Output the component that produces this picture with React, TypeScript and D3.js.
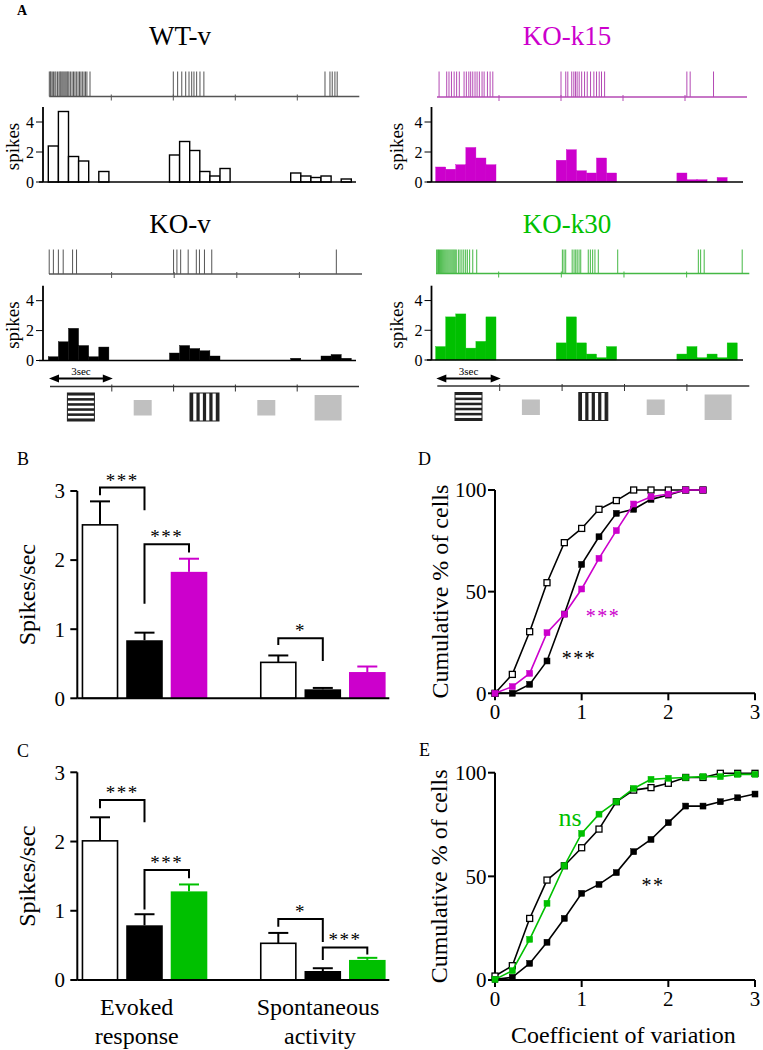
import React from 'react';
import * as d3 from 'd3';

const FONT = '"Liberation Serif", "Times New Roman", Times, serif';
const MAGENTA = '#cc00cc';
const GREEN = '#00c000';

// ---------- Panel A data ----------
// spike times (seconds, 0-15 s sweep)
const spikesWT = [0.0, 0.05, 0.08, 0.14, 0.2, 0.27, 0.32, 0.4, 0.47, 0.52, 0.56, 0.61, 0.66, 0.71, 0.76, 0.81, 0.86, 0.9, 0.95, 1.02, 1.1, 1.17, 1.24, 1.31, 1.39, 1.46, 1.53, 1.6, 1.68, 1.75, 1.82, 1.97,
  6.0, 6.21, 6.41, 6.6, 6.76, 6.89, 7.0, 7.13, 7.29, 7.48,
  13.34, 13.58, 13.69, 13.82, 13.93];
const spikesKOv = [0.01, 0.21, 0.45, 0.68, 1.13, 1.32,
  5.97, 6.13, 6.31, 6.67, 7.06, 7.21, 7.45, 7.8,
  13.77];
const spikesK15 = [0.1, 0.47, 0.58, 0.7, 0.83, 0.95, 1.08, 1.31, 1.42, 1.54, 1.63, 1.73, 1.84, 1.94, 2.05, 2.18, 2.28, 2.44, 2.57, 2.7,
  6.0, 6.23, 6.33, 6.52, 6.62, 6.7, 6.78, 6.88, 7.0, 7.14, 7.27, 7.43, 7.59, 7.72, 7.85, 7.96, 8.11,
  12.09, 12.25, 13.38];
const spikesK30 = [0.03, 0.08, 0.12, 0.17, 0.22, 0.27, 0.32, 0.37, 0.42, 0.47, 0.52, 0.57, 0.62, 0.67, 0.72, 0.77, 0.82, 0.87, 0.92, 0.97,
  1.07, 1.15, 1.24, 1.33, 1.42, 1.5, 1.61, 1.76, 1.95,
  6.05, 6.13, 6.21, 6.52, 6.61, 6.69, 6.76, 6.85, 6.93, 7.29, 7.39, 7.5, 7.61, 7.77, 8.7,
  12.56, 12.67, 12.84, 14.66];

// PSTH, 30 bins of 0.5 s
const histWT = [2.4, 4.7, 1.7, 1.4, 0, 0.7, 0, 0, 0, 0, 0, 0, 1.8, 2.7, 2.1, 0.7, 0.4, 0.9, 0, 0, 0, 0, 0, 0, 0.6, 0.4, 0.3, 0.4, 0, 0.2];
const histKOv = [0.25, 1.25, 2.15, 1.0, 0.25, 0.9, 0, 0, 0, 0, 0, 0, 0.5, 1.0, 0.8, 0.65, 0.3, 0, 0, 0, 0, 0, 0, 0, 0.15, 0, 0, 0.3, 0.4, 0.15];
const histK15 = [1.0, 0.85, 1.15, 2.3, 1.6, 1.15, 0, 0, 0, 0, 0, 0, 1.45, 2.15, 0.75, 0.6, 1.6, 0.6, 0, 0, 0, 0, 0, 0, 0.6, 0.15, 0.15, 0, 0.3, 0];
const histK30 = [0.9, 2.9, 3.1, 0.8, 1.25, 2.9, 0, 0, 0, 0, 0, 0, 1.15, 2.9, 1.15, 0.4, 0.15, 0.9, 0, 0, 0, 0, 0, 0, 0.4, 0.9, 0.15, 0.4, 0.15, 1.15];
const histTicks = [0, 2, 4];

const stimuli = ['hgrating', 'gray', 'vgrating', 'gray', 'blank'];

// ---------- Panels B / C ----------
const barGroups = ['evoked', 'spont'];
const barConds = ['wt', 'ko', 'kok'];
const meanB = [[2.51, 0.84, 1.83], [0.52, 0.13, 0.38]];
const errB = [[2.85, 0.95, 2.02], [0.62, 0.15, 0.46]];
const meanC = [[2.01, 0.79, 1.28], [0.53, 0.13, 0.29]];
const errC = [[2.35, 0.95, 1.38], [0.68, 0.17, 0.32]];
const barTicks = [0, 1, 2, 3];
const bracketsB = [
  { g: 0, a: 0, b: 1, y: 3.05, ya: 2.94, yb: 2.72, label: '***' },
  { g: 0, a: 1, b: 2, y: 2.23, ya: 1.37, yb: 2.11, label: '***' },
  { g: 1, a: 0, b: 1, y: 0.87, ya: 0.77, yb: 0.54, label: '*' },
];
const bracketsC = [
  { g: 0, a: 0, b: 1, y: 2.6, ya: 2.48, yb: 2.28, label: '***' },
  { g: 0, a: 1, b: 2, y: 1.59, ya: 1.02, yb: 1.47, label: '***' },
  { g: 1, a: 0, b: 1, y: 0.88, ya: 0.77, yb: 0.55, label: '*' },
  { g: 1, a: 1, b: 2, y: 0.47, ya: 0.29, yb: 0.37, label: '***' },
];

// ---------- Panels D / E ----------
const cvD = [0, 0.2, 0.4, 0.6, 0.8, 1.0, 1.2, 1.4, 1.6, 1.8, 2.0, 2.2, 2.4];
const cdfD_WT = [0, 9.3, 30.3, 54.4, 74.1, 81.1, 90.5, 94.8, 100, 100, 100, 100, 100];
const cdfD_KO = [0, 0, 4.4, 15.9, 39, 63.4, 77, 88.5, 90.5, 95.4, 97.5, 100, 100];
const cdfD_K15 = [0, 3.3, 9.8, 29.8, 38.9, 51.3, 66.4, 80, 93.1, 96.7, 98, 100, 100];
const cvE = [0, 0.2, 0.4, 0.6, 0.8, 1.0, 1.2, 1.4, 1.6, 1.8, 2.0, 2.2, 2.4, 2.6, 2.8, 3.0];
const cdfE_WT = [1.9, 6.9, 29.7, 48.2, 55.1, 63.8, 72.8, 86, 91.6, 92.8, 94.9, 97.7, 97.7, 99.7, 99.7, 99.7];
const cdfE_KO = [0.3, 1.3, 8, 18.2, 29.7, 41.8, 46.1, 51.8, 61.9, 67.8, 75.9, 83.9, 83.9, 86, 87.9, 89.7];
const cdfE_K30 = [0.3, 4.5, 19.6, 37, 55.1, 70.7, 80, 86, 92.4, 96.8, 97.3, 97.7, 98.1, 98.1, 99.2, 99.2];
const cdfYTicks = [0, 50, 100];
const cdfXTicks = [0, 1, 2, 3];

// ---------------- components ----------------
function Raster({ x0, x1, yTop, yBase, spikes, color }: any) {
  const x = d3.scaleLinear().domain([0, 15]).range([x0, x1]);
  return (
    <g>
      {spikes.map((t: number, i: number) => (
        <line key={i} x1={x(t)} x2={x(t)} y1={yTop} y2={yBase} stroke={color} strokeWidth={1} />
      ))}
      <line x1={x0} x2={x1} y1={yBase} y2={yBase} stroke={color} strokeWidth={1.5} />
      {[3, 6, 9, 12].map((t) => (
        <line key={t} x1={x(t)} x2={x(t)} y1={yBase - 2} y2={yBase + 4} stroke={color} strokeWidth={1} />
      ))}
    </g>
  );
}

function Histogram({ axisX, binStart, binW, ax0, ax1, yTop, yBase, values, fill, stroke, labelX }: any) {
  const x = d3.scaleLinear().domain([0, 30]).range([binStart, binStart + 30 * binW]);
  const y = d3.scaleLinear().domain([0, 5]).range([yBase, yTop]);
  return (
    <g>
      {values.map((v: number, i: number) =>
        v > 0 ? (
          <rect key={i} x={x(i)} y={y(v)} width={x(i + 1) - x(i)} height={y(0) - y(v)}
            fill={fill} stroke={stroke} strokeWidth={stroke === '#000' && fill === '#fff' ? 1.4 : 0.4} />
        ) : null
      )}
      <line x1={ax0} x2={ax1} y1={yBase} y2={yBase} stroke="#000" strokeWidth={1.5} />
      <line x1={axisX} x2={axisX} y1={yTop} y2={yBase} stroke="#000" strokeWidth={1.8} />
      {histTicks.map((t) => (
        <g key={t}>
          <line x1={axisX - 7} x2={axisX} y1={y(t)} y2={y(t)} stroke="#000" strokeWidth={1} />
          <text x={axisX - 9} y={y(t)} dy="0.35em" textAnchor="end" fontSize={16} fontFamily={FONT}>{t}</text>
        </g>
      ))}
      <text transform={`translate(${labelX},${(yTop + yBase) / 2 + 2}) rotate(-90)`} textAnchor="middle"
        dy="0.35em" fontSize={19} fontFamily={FONT}>spikes</text>
    </g>
  );
}

function StimRow({ x0, x1, y, arrowY }: any) {
  const x = d3.scaleLinear().domain([0, 15]).range([x0, x1]);
  const ah = 8;
  return (
    <g>
      <line x1={x0} x2={x1} y1={y} y2={y} stroke="#333" strokeWidth={1.5} />
      {[3, 6, 9, 12].map((t) => (
        <line key={t} x1={x(t)} x2={x(t)} y1={y - 2} y2={y + 5} stroke="#333" strokeWidth={1} />
      ))}
      {/* 3 sec arrow */}
      <line x1={x(0) + ah} x2={x(3) - ah} y1={arrowY} y2={arrowY} stroke="#000" strokeWidth={2} />
      <path d={`M${x(0) - 1},${arrowY} L${x(0) + ah + 1},${arrowY - 4} L${x(0) + ah + 1},${arrowY + 4} Z`} fill="#000" />
      <path d={`M${x(3) + 1},${arrowY} L${x(3) - ah - 1},${arrowY - 4} L${x(3) - ah - 1},${arrowY + 4} Z`} fill="#000" />
      <text x={(x(0) + x(3)) / 2} y={arrowY - 3.5} textAnchor="middle" fontSize={11} fontFamily={FONT}>3sec</text>
      {stimuli.map((s, i) => {
        const cx = (x(i * 3) + x(i * 3 + 3)) / 2;
        if (s === 'hgrating') {
          const w = 27, h = 28, top = y + 6.5, n = 11;
          return (
            <g key={i}>
              <rect x={cx - w / 2} y={top} width={w} height={h} fill="#fff" stroke="#222" strokeWidth={1} />
              {d3.range(n).filter((k) => k % 2 === 0).map((k) => (
                <rect key={k} x={cx - w / 2} y={top + (k * h) / n} width={w} height={h / n} fill="#222" />
              ))}
            </g>
          );
        }
        if (s === 'vgrating') {
          const w = 29, h = 28, top = y + 6.5, n = 9;
          return (
            <g key={i}>
              <rect x={cx - w / 2} y={top} width={w} height={h} fill="#fff" stroke="#222" strokeWidth={1} />
              {d3.range(n).filter((k) => k % 2 === 0).map((k) => (
                <rect key={k} x={cx - w / 2 + (k * w) / n} y={top} width={w / n} height={h} fill="#222" />
              ))}
            </g>
          );
        }
        if (s === 'gray') {
          return <rect key={i} x={cx - 9} y={y + 13.5} width={18} height={15.5} fill="#c0c0c0" />;
        }
        return <rect key={i} x={cx - 13.5} y={y + 8.5} width={27} height={25.5} fill="#c0c0c0" />;
      })}
    </g>
  );
}

function BarChart({ yTop, yBase, means, errs, color, brackets, showX }: any) {
  const axisX = 77.3;
  const y = d3.scaleLinear().domain([0, 3]).range([yBase, yTop]);
  const gx = d3.scaleBand().domain(barGroups).range([81.7, 385.6]).paddingInner(0.2956).paddingOuter(0);
  const bx = d3.scaleBand().domain(barConds).range([0, gx.bandwidth()]).paddingInner(0.178).paddingOuter(0);
  const fills = ['#fff', '#000', color];
  const strokes = ['#000', '#000', color];
  const center = (g: number, c: number) => (gx(barGroups[g]) as number) + (bx(barConds[c]) as number) + bx.bandwidth() / 2;
  return (
    <g fontFamily={FONT}>
      {barGroups.map((g, gi) =>
        barConds.map((c, ci) => {
          const x0 = (gx(g) as number) + (bx(c) as number);
          const cx = x0 + bx.bandwidth() / 2;
          const m = means[gi][ci];
          const e = errs[gi][ci];
          return (
            <g key={g + c}>
              <line x1={cx} x2={cx} y1={y(m)} y2={y(e)} stroke={strokes[ci]} strokeWidth={2} />
              <line x1={cx - 10} x2={cx + 10} y1={y(e)} y2={y(e)} stroke={strokes[ci]} strokeWidth={2} />
              <rect x={x0 + (ci === 0 ? 0.75 : 0)} y={y(m)} width={bx.bandwidth() - (ci === 0 ? 1.5 : 0)} height={y(0) - y(m)}
                fill={fills[ci]} stroke={strokes[ci]} strokeWidth={ci === 0 ? 1.6 : 0} />
            </g>
          );
        })
      )}
      {brackets.map((b: any, i: number) => {
        const xa = center(b.g, b.a);
        const xb = center(b.g, b.b);
        return (
          <g key={i}>
            <path d={`M${xa},${y(b.ya)} L${xa},${y(b.y)} L${xb},${y(b.y)} L${xb},${y(b.yb)}`} fill="none" stroke="#000" strokeWidth={2} />
            <text x={(xa + xb) / 2} y={y(b.y) - 1} textAnchor="middle" fontSize={19} letterSpacing={1.5}>{b.label}</text>
          </g>
        );
      })}
      <line x1={axisX} x2={389.3} y1={yBase} y2={yBase} stroke="#000" strokeWidth={2} />
      <line x1={axisX} x2={axisX} y1={yTop} y2={yBase} stroke="#000" strokeWidth={2} />
      {barTicks.map((t) => (
        <g key={t}>
          <line x1={axisX - 7} x2={axisX} y1={y(t)} y2={y(t)} stroke="#000" strokeWidth={2} />
          <text x={65} y={y(t)} dy="0.35em" textAnchor="end" fontSize={21}>{t}</text>
        </g>
      ))}
      <text transform={`translate(27,${(yTop + yBase) / 2}) rotate(-90)`} textAnchor="middle" dy="0.35em" fontSize={24}>Spikes/sec</text>
      {showX && (
        <g fontSize={24} textAnchor="middle">
          <text x={136.7} y={1015}>Evoked</text>
          <text x={136.7} y={1044}>response</text>
          <text x={318} y={1015}>Spontaneous</text>
          <text x={320} y={1044}>activity</text>
        </g>
      )}
    </g>
  );
}

function Cdf({ yTop, yBase, series, labelY }: any) {
  const x = d3.scaleLinear().domain([0, 3]).range([495, 755]);
  const y = d3.scaleLinear().domain([0, 100]).range([yBase, yTop]);
  const line = d3.line<[number, number]>().x((d) => x(d[0])).y((d) => y(d[1]));
  const s = 6;
  return (
    <g fontFamily={FONT}>
      <line x1={495} x2={755} y1={yBase} y2={yBase} stroke="#000" strokeWidth={2} />
      <line x1={495} x2={495} y1={yTop} y2={yBase} stroke="#000" strokeWidth={2} />
      {cdfXTicks.map((t) => (
        <g key={t}>
          <line x1={x(t)} x2={x(t)} y1={yBase} y2={yBase + 7} stroke="#000" strokeWidth={2} />
          <text x={x(t)} y={yBase + 26} textAnchor="middle" fontSize={21}>{t}</text>
        </g>
      ))}
      {cdfYTicks.map((t) => (
        <g key={t}>
          <line x1={488} x2={495} y1={y(t)} y2={y(t)} stroke="#000" strokeWidth={2} />
          <text x={486.5} y={y(t)} dy="0.35em" textAnchor="end" fontSize={21}>{t}</text>
        </g>
      ))}
      <text transform={`translate(${labelY},${(yTop + yBase) / 2}) rotate(-90)`} textAnchor="middle" dy="0.35em" fontSize={24}>Cumulative % of cells</text>
      {series.map((se: any, i: number) => {
        const pts = se.xs.map((v: number, k: number) => [v, se.ys[k]] as [number, number]);
        return (
          <g key={i}>
            <path d={line(pts) as string} fill="none" stroke={se.color} strokeWidth={1.6} />
            {pts.map((p: [number, number], k: number) => (
              <rect key={k} x={x(p[0]) - s / 2} y={y(p[1]) - s / 2} width={s} height={s}
                fill={se.open ? '#fff' : se.color} stroke={se.open ? '#000' : se.color} strokeWidth={se.open ? 1.3 : 0.5} />
            ))}
          </g>
        );
      })}
    </g>
  );
}

export default function App() {
  return (
    <svg width={763} height={1050} style={{ position: 'absolute', left: 0, top: 0, background: '#fff' }}
      fontFamily={FONT}>
      <rect width={763} height={1050} fill="#fff" />
      {/* Panel A */}
      <text x={17} y={15} fontSize={14} fontWeight="bold">A</text>
      <text x={180} y={45} textAnchor="middle" fontSize={27}>WT-v</text>
      <text x={567} y={45} textAnchor="middle" fontSize={27} fill={MAGENTA}>KO-k15</text>
      <text x={180} y={233} textAnchor="middle" fontSize={27}>KO-v</text>
      <text x={567} y={233} textAnchor="middle" fontSize={27} fill={GREEN}>KO-k30</text>

      <Raster x0={49.3} x1={359.3} yTop={71.5} yBase={96.5} spikes={spikesWT} color="#555" />
      <Raster x0={437} x1={747} yTop={71.5} yBase={97} spikes={spikesK15} color="#b44ab4" />
      <Raster x0={49} x1={362} yTop={249.5} yBase={274} spikes={spikesKOv} color="#555" />
      <Raster x0={436} x1={749.3} yTop={249.5} yBase={273.5} spikes={spikesK30} color="#44b844" />

      <Histogram axisX={43} binStart={48.3} binW={10.1} ax0={39} ax1={356} yTop={107} yBase={182}
        values={histWT} fill="#fff" stroke="#000" labelX={12.7} />
      <Histogram axisX={431.5} binStart={435.7} binW={10.05} ax0={427} ax1={743} yTop={107} yBase={182}
        values={histK15} fill={MAGENTA} stroke={MAGENTA} labelX={396.7} />
      <Histogram axisX={43} binStart={48.3} binW={10.1} ax0={39} ax1={356} yTop={285.7} yBase={360.5}
        values={histKOv} fill="#000" stroke="#000" labelX={12.7} />
      <Histogram axisX={431.5} binStart={435.7} binW={10.05} ax0={427} ax1={743} yTop={285.7} yBase={360}
        values={histK30} fill={GREEN} stroke={GREEN} labelX={396.7} />

      <StimRow x0={50} x1={359} y={386.5} arrowY={378.5} />
      <StimRow x0={437.3} x1={749.3} y={386} arrowY={378.5} />

      {/* Panel B */}
      <text x={17} y={465} fontSize={18}>B</text>
      <BarChart yTop={491} yBase={698.3} means={meanB} errs={errB} color={MAGENTA} brackets={bracketsB} showX={false} />
      {/* Panel C */}
      <text x={17} y={757} fontSize={18}>C</text>
      <BarChart yTop={772.3} yBase={980} means={meanC} errs={errC} color={GREEN} brackets={bracketsC} showX={true} />

      {/* Panel D */}
      <text x={418} y={465} fontSize={18}>D</text>
      <Cdf yTop={490} yBase={693.3} labelY={440}
        series={[
          { xs: cvD, ys: cdfD_WT, color: '#000', open: true },
          { xs: cvD, ys: cdfD_KO, color: '#000', open: false },
          { xs: cvD, ys: cdfD_K15, color: MAGENTA, open: false },
        ]} />
      <text x={603} y={623} textAnchor="middle" fontSize={20} fill={MAGENTA} letterSpacing={1.5}>***</text>
      <text x={579} y={665} textAnchor="middle" fontSize={20} letterSpacing={1.5}>***</text>

      {/* Panel E */}
      <text x={419} y={756} fontSize={18}>E</text>
      <Cdf yTop={772.7} yBase={980} labelY={438.3}
        series={[
          { xs: cvE, ys: cdfE_WT, color: '#000', open: true },
          { xs: cvE, ys: cdfE_KO, color: '#000', open: false },
          { xs: cvE, ys: cdfE_K30, color: GREEN, open: false },
        ]} />
      <text x={570} y={826} textAnchor="middle" fontSize={26} fill={GREEN}>ns</text>
      <text x={653} y={892} textAnchor="middle" fontSize={20} letterSpacing={1.5}>**</text>
      <text x={623.3} y={1043} textAnchor="middle" fontSize={24}>Coefficient of variation</text>
    </svg>
  );
}
